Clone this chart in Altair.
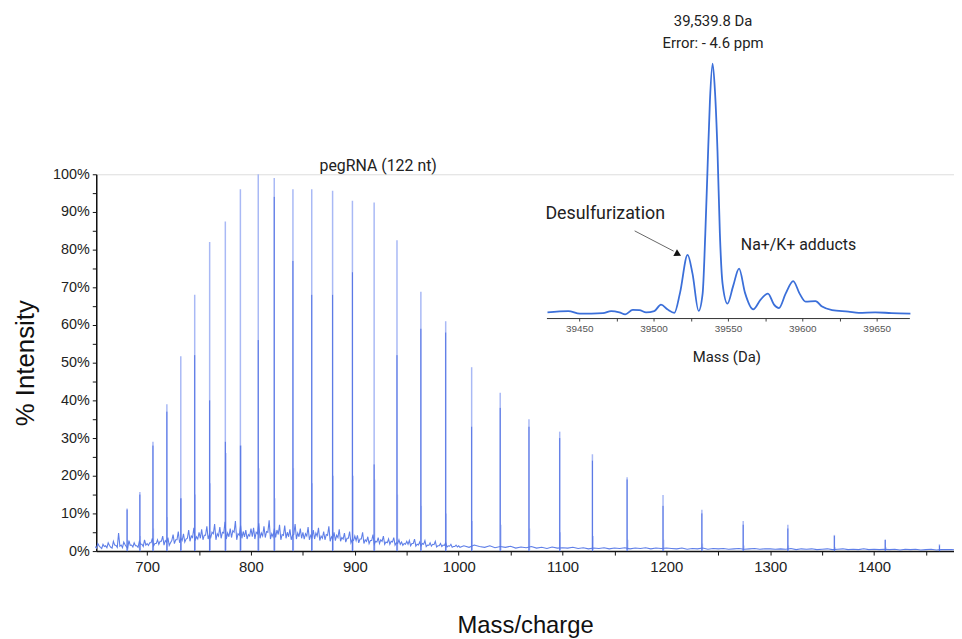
import altair as alt
import pandas as pd

# ---------------- main spectrum (m/z vs % intensity) ----------------
peak_mz = [680.7, 693.0, 705.6, 719.0, 732.4, 745.8, 760.2, 775.3, 789.8, 807.0,
           822.4, 840.4, 858.5, 878.6, 897.7, 918.6, 940.6, 963.6, 987.5, 1012.5,
           1040.0, 1067.7, 1097.3, 1128.8, 1162.2, 1196.8, 1234.2, 1274.0, 1317.0,
           1361.8, 1410.8, 1463.0]
peak_height = [11.3, 15.7, 29, 39, 51.7, 68, 82, 87.5, 96, 100,
               99, 96, 96, 95.6, 93, 92.5, 82.5, 68.8, 61, 48.8,
               42, 35, 31.7, 25.7, 19.6, 14.9, 11, 8, 7,
               4.3, 3, 1.8]
peak_dark = [11, 15, 28, 37, 14, 52, 40, 29, 28, 56,
             94, 77, 68, 68, 74, 23, 52, 59, 58, 33,
             38, 33, 30, 24, 19, 12, 10, 7, 6,
             4, 3, 1.5]
adduct_mz = [681.2, 693.5, 706.1, 719.5, 732.9, 746.3, 760.7, 775.8, 790.3, 807.5,
             822.9, 840.9, 859.0, 879.1, 898.2, 919.1, 941.1, 964.1, 988.0, 1013.0,
             1040.6, 1068.3, 1097.9, 1129.4, 1162.8, 1197.4, 1234.8, 1274.6, 1317.6,
             1362.4, 1411.4, 1463.6]
adduct_height = [3, 4, 6, 9, 14, 15, 18, 26, 28, 22,
                 14, 22, 18, 20, 20, 19, 15, 12, 10, 8,
                 7, 6, 5, 4, 3, 3, 2, 1.5, 1.5,
                 1, 1, 0.5]

# baseline noise, upper points every 2.5 m/z from 650
noise_fine = [
    1.2, 2.0, 1.0, 1.8, 1.4, 2.2, 1.0, 2.6, 1.5, 4.8, 1.6, 2.4, 1.2, 2.8, 1.6, 2.2, 1.4, 2.6, 1.8, 3.0, 2.0,
    2.2, 3.4, 2.0, 3.0, 2.6, 4.0, 2.8, 3.6, 2.2, 4.4, 3.0, 5.2, 3.4, 4.6, 3.2, 5.6, 4.0, 6.2, 3.8, 5.0,
    5.8, 4.2, 6.6, 4.4, 5.0, 7.2, 4.6, 6.4, 5.0, 7.8, 4.8, 6.0, 5.4, 8.0, 4.6, 6.8, 5.2, 5.6, 4.4, 6.0,
    6.2, 5.0, 7.4, 4.8, 6.6, 5.2, 8.2, 4.6, 6.0, 5.6, 7.0, 4.4, 6.8, 5.0, 5.8, 4.2, 7.2, 4.8, 6.0, 5.0,
    4.6, 6.4, 4.2, 5.6, 4.8, 6.2, 4.0, 5.2, 4.4, 6.6, 3.8, 5.0, 4.2, 5.8, 3.6, 4.8, 3.4, 5.2, 3.0, 4.0,
    4.2, 3.2, 5.0, 3.0, 3.8, 2.8, 4.4, 2.6, 3.6, 3.0, 4.0, 2.4, 3.2, 2.6, 3.6, 2.2, 3.0, 2.4, 2.0, 2.6,
    2.8, 2.0, 3.2, 1.8, 2.4, 2.0, 2.8, 1.6, 2.2, 1.8, 2.6, 1.4, 2.0, 1.6, 2.2, 1.4, 1.8, 1.2, 1.6, 1.4,
]
# lower points in between (651.25, 653.75, ...)
noise_mid = [
    0.8, 1.4, 0.7, 1.2, 0.9, 1.5, 0.8, 1.6, 1.0, 1.3, 0.9, 1.7, 0.8, 1.5, 1.1, 1.4, 1.0, 1.8, 1.2, 1.6,
    1.5, 2.2, 1.4, 2.0, 1.8, 2.6, 1.6, 2.4, 1.5, 2.8, 2.0, 3.0, 2.2, 2.8, 2.4, 3.4, 2.6, 3.6, 2.8, 3.2,
    3.4, 3.0, 4.2, 3.2, 3.6, 4.6, 3.0, 4.0, 3.4, 4.8, 3.2, 3.8, 3.6, 5.0, 3.0, 4.2, 3.4, 3.8, 3.2, 4.0,
    3.8, 3.2, 4.6, 3.4, 4.0, 3.6, 5.0, 3.2, 3.8, 3.6, 4.4, 3.0, 4.2, 3.4, 3.8, 3.0, 4.4, 3.2, 3.8, 3.4,
    3.2, 4.0, 3.0, 3.6, 3.2, 4.0, 2.8, 3.4, 3.0, 4.2, 2.6, 3.2, 2.8, 3.6, 2.6, 3.2, 2.4, 3.4, 2.2, 2.8,
    2.8, 2.2, 3.2, 2.0, 2.6, 2.0, 2.8, 1.8, 2.4, 2.0, 2.6, 1.8, 2.2, 1.8, 2.4, 1.6, 2.0, 1.8, 1.5, 1.8,
    1.8, 1.4, 2.0, 1.3, 1.6, 1.4, 1.8, 1.2, 1.5, 1.3, 1.7, 1.1, 1.4, 1.2, 1.5, 1.1, 1.3, 1.0, 1.2, 1.1, 1.0,
]
# coarse part every 5 m/z after the fine part
noise_coarse = [
    1.4, 1.0, 1.6, 1.2, 1.0, 1.4, 0.9, 1.2, 1.0, 1.3, 0.8, 1.1, 0.9, 1.2, 0.8, 1.0, 0.7, 1.1, 0.8, 0.9,
    0.8, 1.0, 0.7, 0.9, 0.6, 0.8, 0.7, 0.9, 0.6, 0.8, 0.7, 0.9, 0.6, 0.8, 0.7, 0.9, 0.6, 0.8, 0.7, 0.8,
    0.7, 0.6, 0.8, 0.5, 0.7, 0.6, 0.8, 0.5, 0.7, 0.6, 0.7, 0.5, 0.6, 0.7, 0.5, 0.6, 0.7, 0.5, 0.6, 0.6,
    0.5, 0.6, 0.5, 0.7, 0.4, 0.6, 0.5, 0.6, 0.4, 0.5, 0.6, 0.4, 0.5, 0.6, 0.4, 0.5, 0.4, 0.6, 0.4, 0.5,
    0.4, 0.5, 0.4, 0.5, 0.3, 0.5, 0.4, 0.5, 0.3, 0.4, 0.5, 0.3, 0.4, 0.4, 0.4, 0.3,
]

# ---------------- inset: deconvoluted mass ----------------
inset_mass = [39428.7, 39442.7, 39450.5, 39466, 39471.5, 39477, 39481, 39486, 39490.5, 39495,
              39500.5, 39505, 39509.5, 39514, 39517.8, 39522.9, 39526.2, 39530.3, 39533,
              39534.8, 39536.3, 39537.9, 39539.7, 39541.3, 39543, 39544.6, 39546.4, 39549.7,
              39553.5, 39557.5, 39561.5, 39567, 39572, 39576.9, 39581, 39584.3, 39588.8,
              39593.9, 39598.2, 39602.2, 39608.9, 39613.3, 39620, 39631, 39638, 39649,
              39660, 39672.7]
inset_rel = [0.5, 1.0, 0.0, 0.2, 1.0, 0.5, -0.3, 1.5, 1.4, 0.5,
             1.0, 3.6, 1.6, 0.3, 8.3, 23.5, 16, 1.1, 8,
             32, 58, 85, 100, 89, 65, 32, 12, 4,
             11, 18, 8.3, 1.7, 5.6, 8, 3.6, 2.2, 8,
             13, 8, 4.8, 5, 2.8, 1.4, 0.8, 0.3, 0.5,
             0.2, 0.0]
inset_ticks = [39450, 39475, 39500, 39525, 39550, 39575, 39600, 39625, 39650]

LIGHT = "#a9b9f5"
DARK = "#5473e4"
NOISE = "#5f7fe8"
TXTFONT = "Roboto, sans-serif"
AXFONT = "Liberation Sans, sans-serif"

fine_mz = [650 + 2.5 * i for i in range(len(noise_fine))]
mid_mz = [651.25 + 2.5 * i for i in range(len(noise_mid))]
coarse_mz = [fine_mz[-1] + 5 * (i + 1) for i in range(len(noise_coarse))]
df_noise = pd.DataFrame({"mz": fine_mz + mid_mz + coarse_mz,
                         "v": noise_fine + noise_mid + noise_coarse}).sort_values("mz")
df_peaks = pd.DataFrame({"mz": peak_mz, "v": peak_height, "d": peak_dark})
df_add = pd.DataFrame({"mz": adduct_mz, "v": adduct_height})

xs = alt.Scale(domain=[651, 1477], nice=False, zero=False)
ys = alt.Scale(domain=[0, 100], nice=False)

x_axis = alt.Axis(
    values=list(range(700, 1451, 50)),
    labelExpr="datum.value % 100 === 0 ? datum.value : ''",
    title="Mass/charge", titleFont=AXFONT, titleFontSize=24,
    titleFontWeight="normal", titleColor="#111", titleY=82, titleBaseline="alphabetic",
    labelFont=AXFONT, labelFontSize=15, labelColor="#222", labelPadding=5,
    domainColor="#111", domainWidth=1.5, tickColor="#111", tickSize=4, grid=False,
)
y_axis = alt.Axis(
    values=list(range(0, 101, 5)),
    labelExpr="datum.value % 10 === 0 ? datum.value + '%' : ''",
    title="% Intensity", titleFont=AXFONT, titleFontSize=26,
    titleFontWeight="normal", titleColor="#111", titleX=-63, titleY=190,
    titleAlign="center", titleBaseline="alphabetic", titleAngle=270,
    labelFont=AXFONT, labelFontSize=14.5, labelColor="#222",
    labelPadding=3, domainColor="#111", domainWidth=1.5, tickColor="#111",
    tickSize=4, grid=False,
)

X = alt.X("mz:Q", scale=xs, axis=x_axis)
Y = alt.Y("v:Q", scale=ys, axis=y_axis)

light = alt.Chart(df_peaks).mark_rule(color=LIGHT, strokeWidth=1.5).encode(x=X, y=Y, y2=alt.datum(0))
adds = alt.Chart(df_add).mark_rule(color=LIGHT, strokeWidth=1.3).encode(x=X, y=Y, y2=alt.datum(0))
noise = alt.Chart(df_noise).mark_line(color=NOISE, strokeWidth=1.1).encode(x=X, y=Y)
dark = alt.Chart(df_peaks).mark_rule(color=DARK, strokeWidth=1.0).encode(
    x=X, y=alt.Y("d:Q", scale=ys, axis=y_axis), y2=alt.datum(0))
peg = alt.Chart(pd.DataFrame({"mz": [922.5], "v": [102.2], "t": ["pegRNA (122 nt)"]})).mark_text(
    font=TXTFONT, fontSize=16, color="#222", align="center", baseline="middle"
).encode(x=X, y=Y, text="t:N")

main = alt.layer(light, adds, noise, dark, peg)

# inset
df_inset = pd.DataFrame({"mass": inset_mass, "rel": inset_rel})
ixs = alt.Scale(domain=[39428, 39672], range=[454, 820], nice=False, zero=False)
iys = alt.Scale(domain=[0, 100], range=[140.5, -111.5], nice=False, zero=False)
i_axis = alt.Axis(
    orient="bottom", offset=-235, values=inset_ticks,
    labelExpr="datum.value % 50 === 0 ? datum.value : ''",
    title=None, labelFont=AXFONT, labelFontSize=10,
    labelColor="#555", labelPadding=3, domainColor="#333", domainWidth=1,
    tickColor="#444", tickSize=3, grid=False,
)
IX = alt.X("mass:Q", scale=ixs, axis=i_axis)
IY = alt.Y("rel:Q", scale=iys, axis=None)

curve = alt.Chart(df_inset).mark_line(color="#3b6fd9", strokeWidth=1.8, interpolate="monotone").encode(x=IX, y=IY)

def itext(mass, rel, txt, size, align):
    return alt.Chart(pd.DataFrame({"mass": [mass], "rel": [rel], "t": [txt]})).mark_text(
        font=TXTFONT, fontSize=size, color="#222", align=align, baseline="middle"
    ).encode(x=IX, y=IY, text="t:N")

t1 = itext(39540, 116.9, "39,539.8 Da", 15, "center")
t2 = itext(39540, 108.1, "Error: - 4.6 ppm", 15, "center")
t3 = itext(39427.3, 39.9, "Desulfurization", 18, "left")
t4 = itext(39558.7, 27.6, "Na+/K+ adducts", 16, "left")
t5 = itext(39549.3, -17.3, "Mass (Da)", 15, "center")

df_arrow = pd.DataFrame({"mass": [39487.3], "rel": [33.1], "mass2": [39513.5], "rel2": [25.0]})
arrow = alt.Chart(df_arrow).mark_rule(color="#666", strokeWidth=1).encode(
    x=IX, y=IY, x2="mass2:Q", y2="rel2:Q")
head = alt.Chart(pd.DataFrame({"mass": [39516.5], "rel": [23.8]})).mark_point(
    shape="triangle-right", filled=True, color="#111", size=60, angle=28, opacity=1
).encode(x=IX, y=IY)

inset = alt.layer(curve, arrow, head, t1, t2, t3, t4, t5)

chart = alt.layer(main, inset).resolve_scale(x="independent", y="independent").properties(
    width=865, height=380,
    padding={"left": 89, "top": 165, "right": 0, "bottom": 90},
    autosize=alt.AutoSizeParams(type="none"),
).configure_view(stroke=None).configure(background="white")

chart.save("out.html", embed_options={"renderer": "svg", "actions": False})
